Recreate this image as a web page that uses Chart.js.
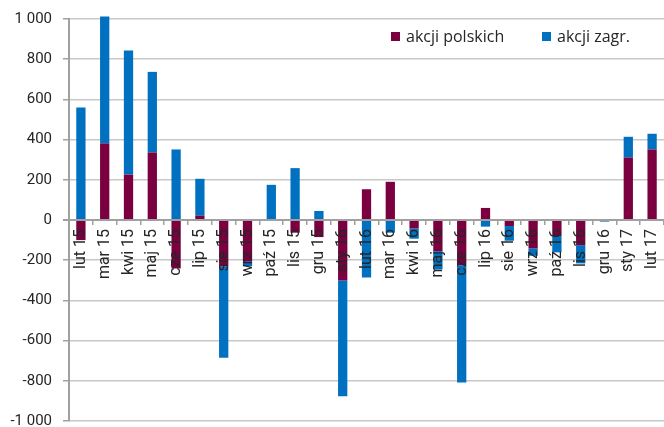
<!DOCTYPE html>
<html>
<head>
<meta charset="utf-8">
<script src="https://cdn.jsdelivr.net/npm/chart.js@4.4.1/dist/chart.umd.min.js"></script>
<style>
  html, body { margin: 0; padding: 0; background: #fff; }
  #wrap { width: 664px; height: 427px; position: relative; }
</style>
</head>
<body>
<div id="wrap"><canvas id="chart"></canvas></div>
<script>
const months = ["lut 15", "mar 15", "kwi 15", "maj 15", "cze 15", "lip 15", "sie 15", "wrz 15",
  "paź 15", "lis 15", "gru 15", "sty 16", "lut 16", "mar 16", "kwi 16", "maj 16", "cze 16",
  "lip 16", "sie 16", "wrz 16", "paź 16", "lis 16", "gru 16", "sty 17", "lut 17"];

const polskich = [-100, 381, 226, 336, -241, 21, -230, -205, 0, -63, -85, -301, 153, 190,
  -42, -155, -225, 60, -30, -141, -80, -125, 0, 311, 351];

const zagr = [560, 632, 617, 401, 351, 184, -455, -25, 175, 258, 45, -576, -286, -63,
  -51, -91, -583, -33, -73, -37, -81, -91, -8, 103, 78];

const yMin = -1000;
const yMax = 1000;
const yStep = 200;

const MAROON = "#7a0040";
const BLUE = "#0070c0";

function formatThousands(v) {
  return String(v).replace(/\B(?=(\d{3})+(?!\d))/g, " ");
}

// legend drawn inside the plot area, top right
const innerLegend = {
  id: "innerLegend",
  afterDraw(chart) {
    const ctx = chart.ctx;
    const xs = [391, 542];
    ctx.save();
    ctx.font = "16px 'Open Sans'";
    ctx.textBaseline = "middle";
    chart.data.datasets.forEach((ds, i) => {
      ctx.fillStyle = ds.backgroundColor;
      ctx.fillRect(xs[i], 32, 9, 9);
      ctx.fillStyle = "#262626";
      ctx.fillText(ds.label, xs[i] + 15, 37);
    });
    ctx.restore();
  }
};

const ctx = document.getElementById("chart").getContext("2d");

new Chart(ctx, {
  type: "bar",
  data: {
    labels: months,
    datasets: [
      {
        label: "akcji polskich",
        data: polskich,
        backgroundColor: MAROON,
        barPercentage: 0.39,
        categoryPercentage: 1,
        clip: false
      },
      {
        label: "akcji zagr.",
        data: zagr,
        backgroundColor: BLUE,
        barPercentage: 0.39,
        categoryPercentage: 1,
        clip: false
      }
    ]
  },
  options: {
    responsive: true,
    maintainAspectRatio: false,
    animation: false,
    layout: { padding: { top: 19, bottom: 6, left: 0, right: 0 } },
    plugins: {
      legend: { display: false },
      tooltip: { enabled: false }
    },
    scales: {
      x: {
        stacked: true,
        position: { y: 0 },
        afterFit(scale) {
          scale.height = 0;
          scale.paddingLeft = 0;
          scale.paddingRight = 0;
        },
        border: { display: false },
        grid: {
          drawOnChartArea: false,
          drawTicks: true,
          tickLength: 5,
          tickColor: "#a0a0a0",
          lineWidth: 1.5,
          z: 1
        },
        ticks: {
          z: 1,
          autoSkip: false,
          minRotation: 90,
          maxRotation: 90,
          padding: 4,
          color: "#262626",
          font: { family: "Roboto", size: 16 }
        }
      },
      y: {
        stacked: true,
        min: yMin,
        max: yMax,
        afterFit(scale) {
          scale.width = 69;
          scale.paddingTop = 0;
          scale.paddingBottom = 0;
        },
        border: { display: true, color: "#a0a0a0", width: 2 },
        grid: {
          color: c => (c.tick && c.tick.value === 0) ? "#a0a0a0" : "#c8c8c8",
          lineWidth: c => (c.tick && c.tick.value === 0) ? 2 : 1.5,
          tickColor: "#a0a0a0",
          tickLength: 6
        },
        ticks: {
          stepSize: yStep,
          padding: 11,
          color: "#262626",
          font: { family: "Roboto", size: 15 },
          callback: v => formatThousands(v)
        }
      }
    }
  },
  plugins: [innerLegend]
});
</script>
</body>
</html>
